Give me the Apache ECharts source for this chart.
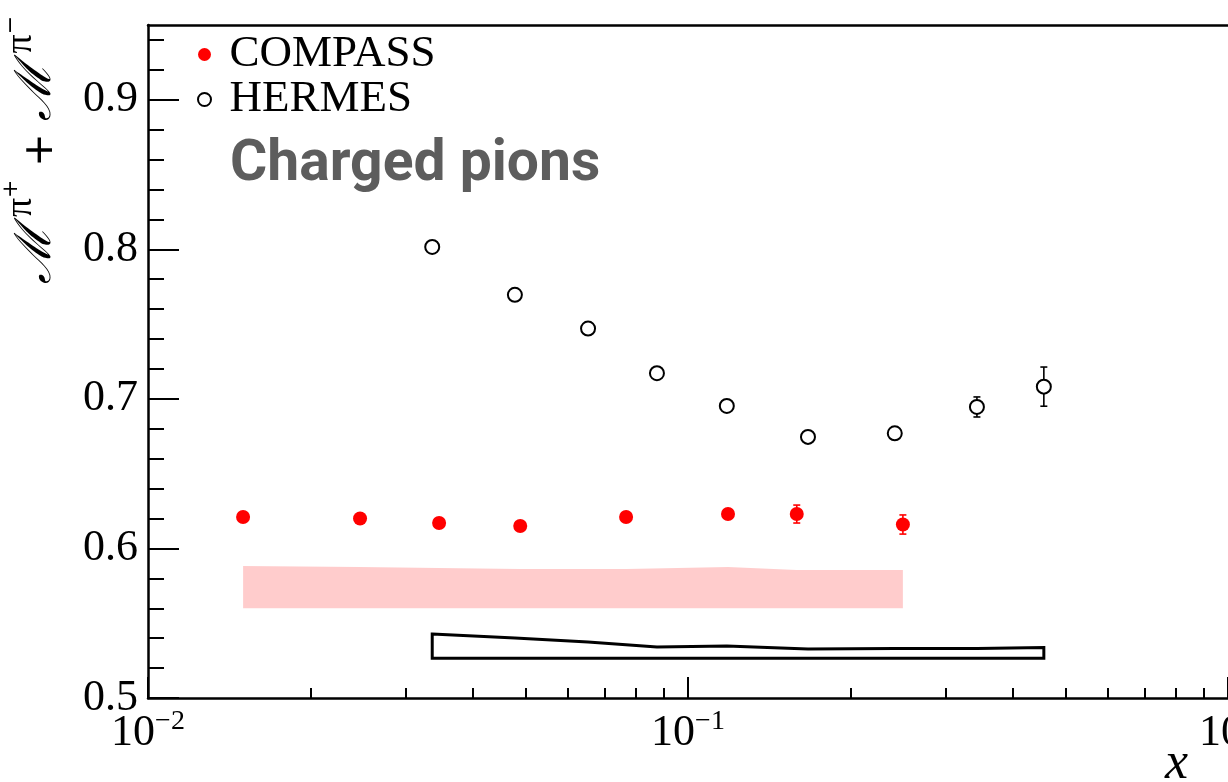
<!DOCTYPE html>
<html>
<head>
<meta charset="utf-8">
<script src="https://cdn.jsdelivr.net/npm/echarts@6/dist/echarts.min.js"></script>
<style>
html,body{margin:0;padding:0;background:#fff}
#main{width:1228px;height:782px}
</style>
</head>
<body>
<div id="main"></div>
<script>
// COMPASS points + stat errors
var compass_x = [0.0150,0.0247,0.0346,0.0489,0.0768,0.1186,0.159,0.250]
var compass_y = [0.621,0.620,0.617,0.615,0.621,0.623,0.623,0.616]
var compass_err = [0.003,0.003,0.003,0.003,0.003,0.003,0.006,0.0064]
// COMPASS systematic band (filled)
var compass_sys_hi = [0.5883,0.5876,0.5870,0.5863,0.5863,0.5876,0.5856,0.5856]
var compass_sys_lo = [0.5600,0.5600,0.5600,0.5600,0.5600,0.5600,0.5600,0.5600]

// HERMES points + stat errors
var hermes_x = [0.0336,0.0478,0.0653,0.0876,0.118,0.1668,0.2415,0.3428,0.456]
var hermes_y = [0.8016,0.7696,0.747,0.7172,0.6953,0.6746,0.677,0.6946,0.7082]
var hermes_err = [0.003,0.003,0.003,0.003,0.003,0.003,0.003,0.0067,0.0131]
// HERMES systematic band (outline)
var hermes_sys_hi = [0.5428,0.5401,0.5375,0.5341,0.5348,0.5328,0.5331,0.5331,0.5338]
var hermes_sys_lo = [0.5265,0.5265,0.5265,0.5265,0.5265,0.5265,0.5265,0.5265,0.5265]

// axis ticks
var x_major = [0.01,0.1,1]
var x_minor = [0.02,0.03,0.04,0.05,0.06,0.07,0.08,0.09,0.2,0.3,0.4,0.5,0.6,0.7,0.8,0.9]
var y_major = [0.5,0.6,0.7,0.8,0.9]
var y_minor = [0.52,0.54,0.56,0.58,0.62,0.64,0.66,0.68,0.72,0.74,0.76,0.78,0.82,0.84,0.86,0.88,0.92,0.94]

var SERIF = 'Liberation Serif'
var zip = (xs,ys,es)=>xs.map((x,i)=>es?[x,ys[i],es[i]]:[x,ys[i]])

var band = (name,xs,lo,hi,style)=>({
  name:name, type:'custom', silent:true, z:1,
  encode:{x:0,y:1},
  data:zip(xs,lo),
  renderItem:(params,api)=>{
    if (params.dataIndex!==0) return null
    var pts = xs.map((x,i)=>api.coord([x,hi[i]]))
    for (var i=xs.length-1;i>=0;i--) pts.push(api.coord([xs[i],lo[i]]))
    return {type:'polygon', shape:{points:pts}, style:style}
  }
})

var errbar = (xs,ys,es,color)=>({
  type:'custom', silent:true, z:3,
  encode:{x:0,y:1},
  data:zip(xs,ys,es),
  renderItem:(params,api)=>{
    var x=api.value(0), y=api.value(1), e=api.value(2)
    var t=api.coord([x,y+e]), b=api.coord([x,y-e]), c=3.5
    var st={stroke:color,lineWidth:1.6}
    return {type:'group',children:[
      {type:'line',shape:{x1:t[0],y1:t[1],x2:b[0],y2:b[1]},style:st},
      {type:'line',shape:{x1:t[0]-c,y1:t[1],x2:t[0]+c,y2:t[1]},style:st},
      {type:'line',shape:{x1:b[0]-c,y1:b[1],x2:b[0]+c,y2:b[1]},style:st}
    ]}
  }
})

var logAxis = (o)=>Object.assign({
  type:'log', logBase:10, min:0.01, max:1, gridIndex:0, splitNumber:2,
  splitLine:{show:false}, minorTick:{show:false}
},o)

var chart = echarts.init(document.getElementById('main'))
chart.setOption({
  animation:false,
  backgroundColor:'#fff',
  grid:{left:148,right:0,top:25,bottom:84,containLabel:false,outerBoundsMode:'none'},
  legend:{
    orient:'vertical', left:192, top:27, itemWidth:40, itemHeight:13, itemGap:0,
    textStyle:{fontFamily:SERIF,fontSize:45,color:'#000',lineHeight:39},
    itemStyle:{opacity:1},
    data:[{name:'COMPASS',icon:'circle'},{name:'HERMES',icon:'emptyCircle'}]
  },
  xAxis:[
    logAxis({
      position:'bottom',
      axisLine:{onZero:false,lineStyle:{color:'#000',width:2.5}},
      axisTick:{inside:true,length:21,lineStyle:{color:'#000',width:2},customValues:x_major},
      axisLabel:{
        customValues:x_major, margin:13, color:'#000',
        formatter:v=>{var e=Math.round(Math.log10(v));return '{b|10}{s|'+(e<0?'\u2212'+(-e):e)+'}'},
        rich:{
          b:{fontFamily:SERIF,fontSize:44,color:'#000',lineHeight:44,verticalAlign:'bottom'},
          s:{fontFamily:SERIF,fontSize:28,color:'#000',lineHeight:28,verticalAlign:'bottom',padding:[0,0,19,0]}
        }
      }
    }),
    logAxis({
      position:'bottom',
      axisLine:{show:false},
      axisTick:{inside:true,length:10,lineStyle:{color:'#000',width:2},customValues:x_minor},
      axisLabel:{show:false}
    }),
    logAxis({
      position:'top',
      axisLine:{show:true,onZero:false,lineStyle:{color:'#000',width:2.5}},
      axisTick:{show:false},
      axisLabel:{show:false}
    })
  ],
  yAxis:[
    {
      type:'value', min:0.5, max:0.95, interval:0.1,
      splitLine:{show:false},
      axisLine:{show:true,onZero:false,lineStyle:{color:'#000',width:2.5}},
      axisTick:{inside:true,length:31,lineStyle:{color:'#000',width:2},customValues:y_major},
      axisLabel:{customValues:y_major,margin:10,fontFamily:SERIF,fontSize:44,color:'#000',formatter:v=>v.toFixed(1)}
    },
    {
      type:'value', min:0.5, max:0.95, position:'left',
      splitLine:{show:false},
      axisLine:{show:false},
      axisTick:{inside:true,length:16,lineStyle:{color:'#000',width:2},customValues:y_minor},
      axisLabel:{show:false}
    }
  ],
  graphic:[
    {type:'text', left:230, top:137, z:10,
      style:{text:'Charged pions',fontFamily:'Roboto',fontWeight:'bold',fontSize:57,fill:'#5d5d5d'}},
    {type:'text', left:1165, top:738, z:10,
      style:{text:'x',fontFamily:SERIF,fontStyle:'italic',fontSize:52,fill:'#000'}},
    {type:'text', x:34, y:150, rotation:Math.PI/2, z:10,
      style:{
        text:'{m|\u2133}{p|\u03c0}{q|+}{o| + }{m|\u2133}{p|\u03c0}{q|\u2212}',
        align:'center', verticalAlign:'middle',
        rich:{
          m:{fontFamily:'DejaVu Serif',fontStyle:'italic',fontSize:50,lineHeight:56,verticalAlign:'bottom',fill:'#000'},
          p:{fontFamily:SERIF,fontSize:38,lineHeight:38,verticalAlign:'bottom',padding:[0,0,22,9],fill:'#000'},
          q:{fontFamily:'DejaVu Sans',fontSize:22,lineHeight:22,verticalAlign:'bottom',padding:[0,0,40,0],fill:'#000'},
          o:{fontFamily:'DejaVu Sans',fontSize:40,lineHeight:44,verticalAlign:'bottom',fill:'#000'}
        }
      }}
  ],
  series:[
    band('COMPASS sys',compass_x,compass_sys_lo,compass_sys_hi,{fill:'rgba(255,0,0,0.2)',stroke:null}),
    band('HERMES sys',hermes_x,hermes_sys_lo,hermes_sys_hi,{fill:'none',stroke:'#000',lineWidth:3,lineJoin:'miter'}),
    errbar(compass_x,compass_y,compass_err,'#ff0000'),
    errbar(hermes_x,hermes_y,hermes_err,'#000'),
    {name:'COMPASS',type:'scatter',z:4,symbol:'circle',symbolSize:14,
      itemStyle:{color:'#ff0000',opacity:1},data:zip(compass_x,compass_y)},
    {name:'HERMES',type:'scatter',z:4,symbol:'emptyCircle',symbolSize:14,
      itemStyle:{color:'#000',borderWidth:1.6,opacity:1},data:zip(hermes_x,hermes_y)}
  ]
})
</script>
</body>
</html>
